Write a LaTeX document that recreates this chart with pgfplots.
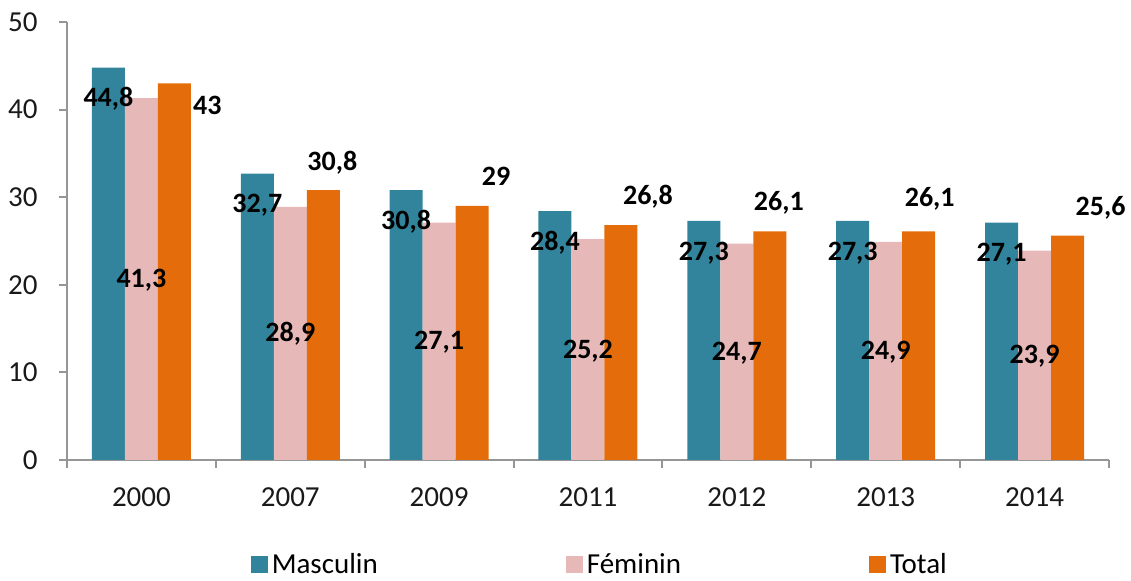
\documentclass[border=0pt]{standalone}
\usepackage{pgfplots}
\usepackage{pgfplotstable}
\pgfplotsset{compat=1.18}
\usepackage{fontspec}
\setmainfont{Carlito}
\definecolor{cm}{HTML}{31849B}
\definecolor{cf}{HTML}{E6B9B8}
\definecolor{ct}{HTML}{E46C0A}
\definecolor{axisgray}{RGB}{150,150,150}
\pgfplotstableread{
x m f t tdx tdy
0 44.8 41.3 43 16.5 -11.5
1 32.7 28.9 30.8 4.5 14
2 30.8 27.1 29 12 14.5
3 28.4 25.2 26.8 13.5 14.5
4 27.3 24.7 26.1 4.5 14.5
5 27.3 24.9 26.1 5.5 16.5
6 27.1 23.9 25.6 16.5 14.5
}\data
\begin{document}
\begin{tikzpicture}
\begin{axis}[
  at={(33.5pt,60.5pt)}, anchor=south west,
  scale only axis, width=521pt, height=219pt,
  ybar, bar width=16.5pt,
  xmin=-0.5, xmax=6.5, ymin=0, ymax=50,
  enlargelimits=false,
  axis x line=bottom, axis y line=left,
  axis line style={-, draw=axisgray, line width=1pt},
  tick align=outside, major tick length=4pt,
  tick style={draw=axisgray, line width=1pt},
  ytick={0,10,...,50},
  xtick={0,...,6},
  xticklabels={2000,2007,2009,2011,2012,2013,2014},
  xtick style={draw=none},
  extra x ticks={-0.5,0.5,...,6.5},
  extra x tick labels={},
  extra x tick style={xtick style={draw=axisgray, line width=1pt}},
  /pgf/number format/.cd, use comma, assume math mode=true, 1000 sep={},
  /pgfplots/.cd,
  yticklabel style={font=\fontsize{14.5}{16}\selectfont, text=black!90, inner sep=0pt, anchor=east, xshift=-10.5pt},
  xticklabel style={font=\fontsize{14.5}{16}\selectfont, text=black!90, inner sep=0pt, anchor=base, yshift=-19.5pt},
  nodes near coords,
  every node near coord/.append style={font=\fontsize{14}{16}\selectfont\bfseries, text=black, inner sep=0pt},
  legend columns=3,
  legend style={draw=none, fill=none, inner sep=0pt,
    at={(axis description cs:0.176,-0.2397)}, anchor=west,
    font=\fontsize{14.5}{16}\selectfont,
    /tikz/every even column/.append style={column sep=92pt}},
  legend image code/.code={\fill[#1] (0pt,-4.25pt) rectangle (8.5pt,4.25pt);},
]
\addplot[fill=cm, draw=none, bar shift=-16.5pt,
  nodes near coords style={anchor=base, yshift=-19.7pt}]
  table[x=x, y=m] {\data};
\addlegendentry{Masculin}
\addplot[fill=cf, draw=none, bar shift=0pt,
  visualization depends on={\thisrow{f} \as \fv},
  nodes near coords style={anchor=base, yshift={-0.5*\fv*4.38pt-4.2pt}}]
  table[x=x, y=f] {\data};
\addlegendentry{Féminin}
\addplot[fill=ct, draw=none, bar shift=16.5pt,
  visualization depends on={\thisrow{tdx} \as \tdx},
  visualization depends on={\thisrow{tdy} \as \tdy},
  nodes near coords style={anchor=base, xshift={\tdx*1pt}, yshift={\tdy*1pt-4.2pt}}]
  table[x=x, y=t] {\data};
\addlegendentry{Total}
\end{axis}
\pgfresetboundingbox
\path[use as bounding box] (0,0) rectangle (565.5pt,290.5pt);
\end{tikzpicture}
\end{document}
